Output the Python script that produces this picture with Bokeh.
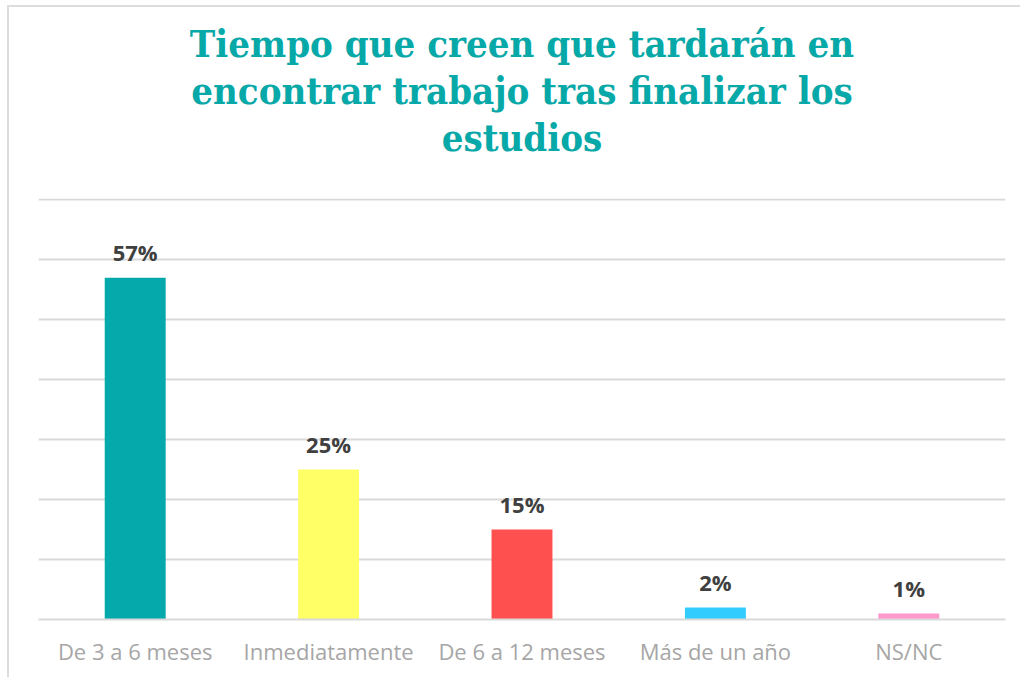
from bokeh.plotting import figure
from bokeh.models import ColumnDataSource, LabelSet, Title, FixedTicker
from bokeh.core.properties import value
from bokeh.embed import file_html
from bokeh.resources import INLINE

categories = ["De 3 a 6 meses", "Inmediatamente", "De 6 a 12 meses", "Más de un año", "NS/NC"]
values = [57, 25, 15, 2, 1]
labels = ["57%", "25%", "15%", "2%", "1%"]
colors = ["#05a8ab", "#ffff66", "#ff5050", "#33ccff", "#ff99cc"]
title_lines = ["Tiempo que creen que tardarán en",
               "encontrar trabajo tras finalizar los",
               "estudios"]

src = ColumnDataSource(dict(cat=categories, val=values, lab=labels, col=colors))

p = figure(x_range=categories, y_range=(0, 70.2), width=1013, height=672,
           output_backend="svg", toolbar_location=None,
           min_border_left=29, min_border_right=17, min_border_top=191, min_border_bottom=60)

# spacer between the title block and the plot area
p.add_layout(Title(text="\u00a0", text_font_size="33px", standoff=0), "above")
for line in reversed(title_lines):
    t = Title(text=line, align="center", text_font="DejaVu Serif Condensed",
              text_font_size="38px", text_font_style="bold", text_color="#07a8a8",
              standoff=0)
    p.add_layout(t, "above")

p.vbar(x="cat", top="val", width=0.315, fill_color="col", line_color=None, source=src)

lbl = LabelSet(x="cat", y="val", text="lab", source=src, text_align="center",
               text_baseline="alphabetic", y_offset=17, text_font=value("Open Sans"),
               text_font_style="bold", text_font_size="22px", text_color="#404040")
p.add_layout(lbl)

p.yaxis.visible = False
p.yaxis.ticker = FixedTicker(ticks=[0, 10, 20, 30, 40, 50, 60, 70])
p.ygrid.ticker = FixedTicker(ticks=[0, 10, 20, 30, 40, 50, 60, 70])
p.ygrid.grid_line_color = "#d9d9d9"
p.ygrid.grid_line_width = 2
p.xgrid.visible = False
p.xaxis.axis_line_color = "#d9d9d9"
p.xaxis.axis_line_width = 2
p.xaxis.major_tick_line_color = None
p.xaxis.minor_tick_line_color = None
p.xaxis.major_label_text_font = "Open Sans"
p.xaxis.major_label_text_font_size = "22px"
p.xaxis.major_label_text_color = "#a6a6a6"
p.xaxis.major_label_standoff = 10
p.outline_line_color = None
p.styles = {"margin-left": "7px", "margin-top": "5px",
            "border-left": "2px solid #dcdcdc", "border-top": "2px solid #dcdcdc"}

open("out.html", "w").write(file_html(p, INLINE))
